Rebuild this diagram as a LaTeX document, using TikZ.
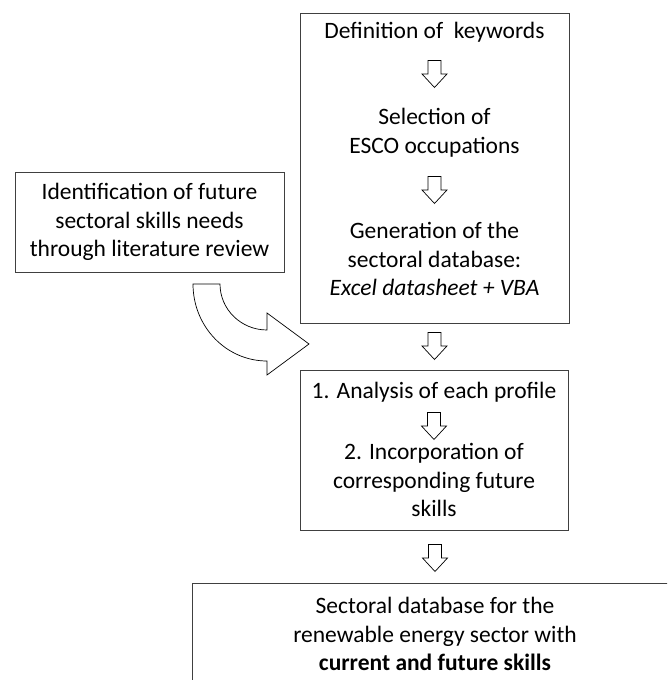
\documentclass[tikz,border=0pt]{standalone}
\usepackage{fontspec}
\setmainfont{Carlito}
\tikzset{
	box/.style={draw=black!75,line width=0.9pt,inner sep=0pt},
	txt/.style={align=center,inner sep=0pt,font=\fontsize{23.5}{28.5}\selectfont},
	downarr/.pic={\draw[line width=0.7pt] (-6.5,13.5) -- (-6.5,0) -- (-12.5,0) -- (0,-13.5) -- (12.5,0) -- (6.5,0) -- (6.5,13.5) -- cycle;}
}
\begin{document}
\begin{tikzpicture}[x=1pt,y=1pt,line join=miter]
	\useasboundingbox (0,0) rectangle (667,680);
	\clip (0,0) rectangle (667,680);
	\node[box,minimum width=269pt,minimum height=100pt] (lit) at (149.5,458) {};
	\node[box,minimum width=269pt,minimum height=310pt] (db) at (434.5,512) {};
	\node[box,minimum width=268pt,minimum height=160pt] (prof) at (434,230) {};
	\node[box,minimum width=486pt,minimum height=112pt] (res) at (435,41) {};
	\node[txt] (littxt) at (lit) {Identification of future\\sectoral skills needs\\through literature review};
	\node[txt] (kw) at (434.5,648) {Definition of\ \ keywords};
	\node[txt] (esco) at (434.5,547.5) {Selection of\\ESCO occupations};
	\node[txt] (gen) at (434.5,421) {Generation of the\\sectoral database:\\\textit{Excel datasheet + VBA}};
	\node[txt] (ana) at (434,288) {1. Analysis of each profile};
	\node[txt] (inc) at (434,200) {2. Incorporation of\\corresponding future\\skills};
	\node[txt] (restxt) at (435,46) {Sectoral database for the\\renewable energy sector with\\\textbf{current and future skills}};
	\pic (a1) at (434.5,606) {downarr};
	\pic (a2) at (434.5,490) {downarr};
	\pic (a3) at (434.5,334) {downarr};
	\pic (a4) at (434,254) {downarr};
	\pic (a5) at (435,122) {downarr};
	\draw[line width=0.7pt] (193,396) -- (220,396) arc[start angle=180,end angle=270,x radius=47,y radius=46]
		-- (267,367) -- (309,336) -- (267,305) -- (267,319)
		arc[start angle=270,end angle=180,x radius=74,y radius=77] -- cycle;
\end{tikzpicture}
\end{document}
